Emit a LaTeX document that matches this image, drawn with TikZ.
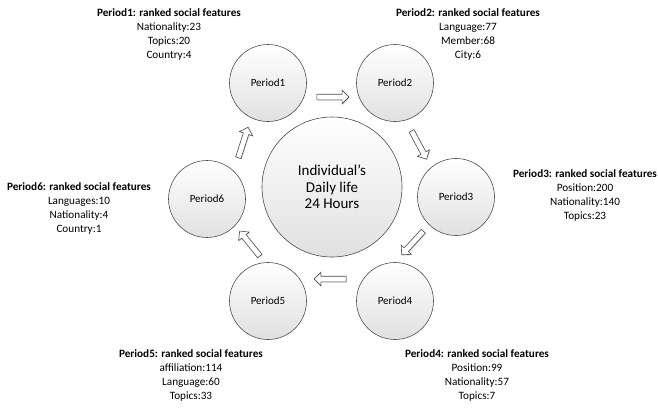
\documentclass[tikz,border=0pt]{standalone}
\usepackage{fontspec}
\setmainfont{Carlito}
\usetikzlibrary{shapes.arrows,shadows}

\tikzset{
  period/.style={circle, draw=black!70, line width=0.6pt, top color=white, bottom color=black!12,
    minimum size=77pt, inner sep=0pt, font=\fontsize{11}{13}\selectfont},
  hub/.style={period, minimum size=140pt, align=center, font=\fontsize{15}{16.5}\selectfont},
  info/.style={align=center, font=\fontsize{11.2}{14}\selectfont},
  blockarrow/.style={single arrow, draw=black!70, fill=white, line width=0.6pt,
    minimum height=32pt, single arrow head extend=4pt, inner sep=2.5pt,
    text height=0pt, text depth=0pt, sloped, allow upside down,
    drop shadow={shadow xshift=0.8pt, shadow yshift=-0.8pt, opacity=0.35}}
}

\begin{document}
\begin{tikzpicture}[x=1pt,y=-1pt]

\useasboundingbox (0,0) rectangle (658,408);

% circles
\node[hub] (hub) at (332,187) {Individual's\\Daily life\\24 Hours};
\node[period] (p1) at (268,83) {Period1};
\node[period] (p2) at (395,83) {Period2};
\node[period] (p3) at (456,197) {Period3};
\node[period] (p4) at (395,301) {Period4};
\node[period] (p5) at (268,301) {Period5};
\node[period] (p6) at (207,199) {Period6};

% block arrows between periods
\path (p1) -- (p2) node[blockarrow, midway, yshift=-14pt] {};
\path (p2) -- (p3) node[blockarrow, midway, yshift=-8pt] {};
\path (p3) -- (p4) node[blockarrow, midway, yshift=-14pt, rotate=-12] {};
\path (p4) -- (p5) node[blockarrow, midway, yshift=-22pt] {};
\path (p5) -- (p6) node[blockarrow, pos=0.45, yshift=-14pt, rotate=8] {};
\path (p6) -- (p1) node[blockarrow, midway, yshift=-6pt, rotate=10] {};

% ranked features
\node[info] (info1) at (169,34) {\textbf{Period1: ranked social features}\\Nationality:23\\Topics:20\\Country:4};
\node[info] (info2) at (468,34) {\textbf{Period2: ranked social features}\\Language:77\\Member:68\\City:6};
\node[info] (info3) at (585,195) {\textbf{Period3: ranked social features}\\Position:200\\Nationality:140\\Topics:23};
\node[info] (info4) at (477,375) {\textbf{Period4: ranked social features}\\Position:99\\Nationality:57\\Topics:7};
\node[info] (info5) at (191,375) {\textbf{Period5: ranked social features}\\affiliation:114\\Language:60\\Topics:33};
\node[info] (info6) at (79,208) {\textbf{Period6: ranked social features}\\Languages:10\\Nationality:4\\Country:1};

\end{tikzpicture}
\end{document}
